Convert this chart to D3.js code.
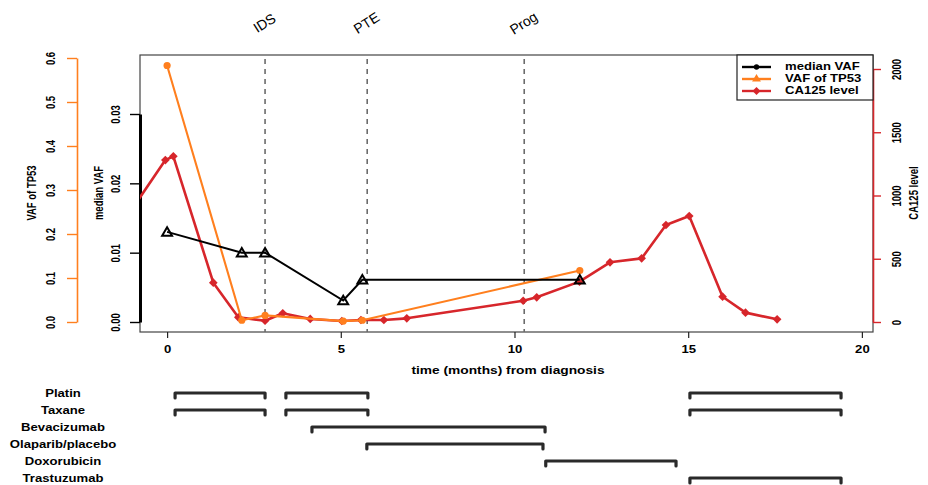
<!DOCTYPE html>
<html>
<head>
<meta charset="utf-8">
<script src="https://cdn.jsdelivr.net/npm/d3@7"></script>
<style>
  html, body { margin: 0; padding: 0; background: #fff; }
  svg { display: block; font-family: "Liberation Sans", Arial, sans-serif; }
</style>
</head>
<body>
<svg id="chart" width="928" height="485"></svg>
<script>
// ---- data -------------------------------------------------------------
// median VAF across variants (months, VAF)
const medianMonths = [0.0, 2.15, 2.82, 5.07, 5.62, 11.88];
const medianVAF    = [0.013, 0.010, 0.010, 0.0031, 0.0061, 0.0061];

// VAF of the TP53 mutation
const tp53Months = [0.0, 2.15, 2.82, 5.07, 5.62, 11.88];
const tp53VAF    = [0.583, 0.004, 0.015, 0.002, 0.004, 0.117];

// CA125 serum level
const caMonths = [-1.3, -0.05, 0.18, 1.33, 2.05, 2.82, 3.33, 4.12, 5.03, 5.58, 6.24, 6.90,
                  10.25, 10.64, 11.87, 12.75, 13.66, 14.36, 15.03, 15.99, 16.65, 17.56];
const caLevel  = [775, 1280, 1310, 311, 37, 10, 69, 24, 8, 16, 16, 29,
                  168, 195, 319, 472, 503, 767, 838, 200, 74, 21];

// clinical events
const eventNames  = ["IDS", "PTE", "Prog"];
const eventMonths = [2.82, 5.76, 10.28];

// treatment periods
const treatNames = ["Platin", "Taxane", "Bevacizumab", "Olaparib/placebo", "Doxorubicin", "Trastuzumab"];
const treatStart = [[0.23, 3.42, 15.05], [0.23, 3.42, 15.05], [4.17], [5.75], [10.9], [15.05]];
const treatEnd   = [[2.82, 5.78, 19.4], [2.82, 5.78, 19.4], [10.88], [10.82], [14.65], [19.4]];

// axis ticks
const xTicks   = [0, 5, 10, 15, 20];
const tpTicks  = [0, 0.1, 0.2, 0.3, 0.4, 0.5, 0.6];
const medTicks = [0, 0.01, 0.02, 0.03];
const caTicks  = [0, 500, 1000, 1500, 2000];

// ---- layout -----------------------------------------------------------
const RED = "#d7262b", ORANGE = "#ff7f1e", BLACK = "#000";
const frame = { left: 140, right: 873, top: 55, bottom: 332 };
const WIDE = 1.25;   // horizontal stretch applied to horizontal labels

const svg = d3.select("#chart");

const x    = d3.scaleLinear([-0.78, 20.32], [frame.left, frame.right]);
const yMed = d3.scaleLinear([0, 0.03], [322, 114]);
const yTP  = d3.scaleLinear([0, 0.6], [322, 58]);
const yCA  = d3.scaleLinear([0, 2000], [322, 69]);

// horizontal label helper
function label(parent, px, py, txt, opts = {}) {
  return parent.append("text")
    .attr("transform", `translate(${px},${py}) scale(${WIDE},1)`)
    .attr("text-anchor", opts.anchor || "middle")
    .attr("dominant-baseline", "middle")
    .attr("font-size", opts.size || 11)
    .attr("font-weight", "bold")
    .text(txt);
}

svg.append("clipPath").attr("id", "plotclip")
  .append("rect")
  .attr("x", frame.left).attr("y", frame.top)
  .attr("width", frame.right - frame.left).attr("height", frame.bottom - frame.top);

// plot frame
svg.append("rect")
  .attr("x", frame.left).attr("y", frame.top)
  .attr("width", frame.right - frame.left).attr("height", frame.bottom - frame.top)
  .attr("fill", "none").attr("stroke", "#444").attr("stroke-width", 1.2);

// ---- event markers ----------------------------------------------------
const ev = svg.append("g");
eventMonths.forEach((m, i) => {
  ev.append("line")
    .attr("x1", x(m)).attr("x2", x(m))
    .attr("y1", frame.top + 4).attr("y2", frame.bottom)
    .attr("stroke", "#6b6b6b").attr("stroke-width", 1.6)
    .attr("stroke-dasharray", "5,5");
  ev.append("text")
    .attr("transform", `translate(${x(m)},${24}) rotate(-32)`)
    .attr("text-anchor", "middle").attr("dominant-baseline", "middle")
    .attr("font-size", 14).text(eventNames[i]);
});

// ---- x axis -----------------------------------------------------------
const xAxis = svg.append("g")
  .attr("transform", `translate(0,${frame.bottom})`)
  .call(d3.axisBottom(x).tickValues(xTicks).tickSize(6).tickSizeOuter(0).tickPadding(8));
xAxis.select(".domain").remove();
xAxis.selectAll("line").attr("stroke", "#222").attr("stroke-width", 1.2);
xAxis.selectAll("text")
  .attr("font-size", 10.5).attr("font-weight", "bold")
  .attr("font-family", "Liberation Sans, Arial, sans-serif")
  .attr("transform", `scale(${WIDE},1)`)
  .attr("x", 0);

label(svg, 508, 371, "time (months) from diagnosis", { size: 11 });

// ---- y axes -----------------------------------------------------------
function verticalAxis(scale, ticks, xPos, color, side, fmt, lineWidth, labelOffset, title, titleX) {
  const g = svg.append("g").attr("transform", `translate(${xPos},0)`);
  const axis = side === "left" ? d3.axisLeft(scale) : d3.axisRight(scale);
  g.call(axis.tickValues(ticks).tickFormat(fmt).tickSize(side === "left" ? 10 : 8).tickSizeOuter(0));
  g.select(".domain").attr("stroke", color).attr("stroke-width", lineWidth);
  g.selectAll(".tick line").attr("stroke", color).attr("stroke-width", 1.4);
  g.selectAll(".tick text")
    .attr("font-size", 9.5).attr("font-weight", "bold").attr("fill", "#000")
    .attr("font-family", "Liberation Sans, Arial, sans-serif")
    .attr("x", null).attr("dy", null)
    .attr("text-anchor", "middle").attr("dominant-baseline", "middle")
    .attr("transform", `translate(${labelOffset},0) scale(${WIDE},1) rotate(-90)`);
  svg.append("text")
    .attr("transform", `translate(${titleX},${193}) scale(${WIDE},1) rotate(-90)`)
    .attr("text-anchor", "middle").attr("dominant-baseline", "middle")
    .attr("font-size", 9.5).attr("font-weight", "bold").text(title);
}

verticalAxis(yTP, tpTicks, 77, ORANGE, "left", d3.format(".1f"), 1.6, -25, "VAF of TP53", 33);
verticalAxis(yMed, medTicks, 140, BLACK, "left", d3.format(".2f"), 3, -23, "median VAF", 100);
verticalAxis(yCA, caTicks, 873, RED, "right", d3.format("d"), 1.6, 25, "CA125 level", 915);

// ---- series -----------------------------------------------------------
const plot = svg.append("g").attr("clip-path", "url(#plotclip)");

const caData  = caMonths.map((m, i) => [m, caLevel[i]]);
const tpData  = tp53Months.map((m, i) => [m, tp53VAF[i]]);
const medData = medianMonths.map((m, i) => [m, medianVAF[i]]);

// CA125
plot.append("path")
  .attr("d", d3.line().x(d => x(d[0])).y(d => yCA(d[1]))(caData))
  .attr("fill", "none").attr("stroke", RED).attr("stroke-width", 2.6)
  .attr("stroke-linejoin", "round");
plot.selectAll(".ca").data(caData).join("path")
  .attr("transform", d => `translate(${x(d[0])},${yCA(d[1])})`)
  .attr("d", d3.symbol(d3.symbolDiamond2, 48)())
  .attr("fill", RED);

// TP53 VAF
plot.append("path")
  .attr("d", d3.line().x(d => x(d[0])).y(d => yTP(d[1]))(tpData))
  .attr("fill", "none").attr("stroke", ORANGE).attr("stroke-width", 2.1);
plot.selectAll(".tp").data(tpData).join("circle")
  .attr("cx", d => x(d[0])).attr("cy", d => yTP(d[1])).attr("r", 3.6)
  .attr("fill", ORANGE);

// median VAF
plot.append("path")
  .attr("d", d3.line().x(d => x(d[0])).y(d => yMed(d[1]))(medData))
  .attr("fill", "none").attr("stroke", BLACK).attr("stroke-width", 2);
plot.selectAll(".med").data(medData).join("path")
  .attr("transform", d => `translate(${x(d[0])},${yMed(d[1]) + 1})`)
  .attr("d", d3.symbol(d3.symbolTriangle2, 70)())
  .attr("fill", "none").attr("stroke", BLACK).attr("stroke-width", 2);

// ---- legend -----------------------------------------------------------
const legendItems = [
  { label: "median VAF", color: BLACK, shape: d3.symbolCircle, size: 22 },
  { label: "VAF of TP53", color: ORANGE, shape: d3.symbolTriangle, size: 34 },
  { label: "CA125 level", color: RED, shape: d3.symbolDiamond2, size: 40 }
];
const lg = svg.append("g");
lg.append("rect")
  .attr("x", 737).attr("y", frame.top).attr("width", frame.right - 737).attr("height", 45)
  .attr("fill", "#fff").attr("stroke", "#222").attr("stroke-width", 1.2);
legendItems.forEach((it, i) => {
  const yy = 67 + i * 12;
  lg.append("line").attr("x1", 742).attr("x2", 771).attr("y1", yy).attr("y2", yy)
    .attr("stroke", it.color).attr("stroke-width", 2.4);
  lg.append("path").attr("transform", `translate(756.5,${yy})`)
    .attr("d", d3.symbol(it.shape, it.size)()).attr("fill", it.color);
  label(lg, 785, yy, it.label, { anchor: "start", size: 10.5 });
});

// ---- treatment timeline -----------------------------------------------
const tl = svg.append("g");
treatNames.forEach((name, i) => {
  const yy = 393 + i * 17;
  label(tl, 63, yy + 1, name, { size: 10.5 });
  treatStart[i].forEach((s, j) => {
    const x1 = x(s), x2 = x(treatEnd[i][j]);
    tl.append("path")
      .attr("d", `M${x1},${yy + 5}L${x1},${yy}L${x2},${yy}L${x2},${yy + 5}`)
      .attr("fill", "none").attr("stroke", "#2a2a2a").attr("stroke-width", 3.2)
      .attr("stroke-linecap", "round").attr("stroke-linejoin", "round");
  });
});
</script>
</body>
</html>
